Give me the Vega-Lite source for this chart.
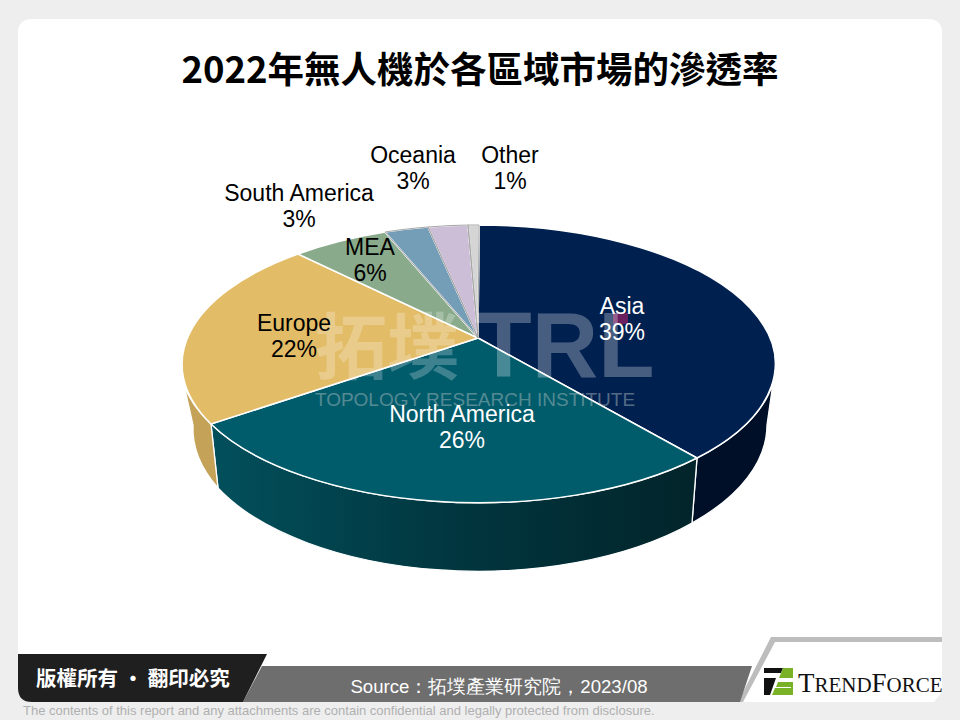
{
"$schema":"https://vega.github.io/schema/vega-lite/v6.json",
"width":960,"height":720,"autosize":{"type":"none"},"padding":0,
"background":"#eeeeee",
"title":{"text":"2022年無人機於各區域市場的滲透率","font":"Noto Sans CJK TC","fontSize":36.5,"fontWeight":"bold","color":"#000000","anchor":"middle","frame":"group","offset":-119,"baseline":"alphabetic"},
"config":{"view":{"stroke":null}},
"datasets":{"shares":[
{"region":"Asia","share":39},
{"region":"North America","share":26},
{"region":"Europe","share":22},
{"region":"MEA","share":6},
{"region":"South America","share":3},
{"region":"Oceania","share":3},
{"region":"Other","share":1}
]},
"data":{"name":"shares"},
"transform":[{"calculate":"datum.region + '\\n' + datum.share + '%'","as":"label"}],
"layer":[
{"data":{"values":[{"part":"panel"}]},"mark":{"type":"point","filled":true,"opacity":1,"size":4,"fill":"#ffffff","stroke":null,"shape":"M-448,-341 L448,-341 Q462,-341 462,-327 L462,332 L454,342 L-448,342 Q-462,342 -462,328 L-462,-327 Q-462,-341 -448,-341 Z"}},
{"data":{"values":[{"part":"stripe"}]},"mark":{"type":"point","filled":true,"opacity":1,"size":4,"fill":"#bdbdbd","stroke":null,"shape":"M291,277 L462,277 L462,282 L295,282 L263,342 L258,342 Z"}},
{"data":{"values":[{"part":"band"}]},"mark":{"type":"point","filled":true,"opacity":1,"size":4,"fill":"#6e6e6e","stroke":null,"shape":"M-218,306 L272,306 L260,342 L-237,342 Z"}},
{"data":{"values":[{"part":"tab"}]},"mark":{"type":"point","filled":true,"opacity":1,"size":4,"fill":"#1f1f1f","stroke":null,"shape":"M-462,294 L-213,294 L-237,342 L-448,342 Q-462,342 -462,328 Z"}},
{"data":{"values":[{"part":"logo black"}]},"mark":{"type":"point","filled":true,"opacity":1,"size":4,"fill":"#111111","stroke":null,"shape":"M284,308 L303,308 L301,313 L284,313 Z M284,318 L296,318 L290,335 L284,335 Z"}},
{"data":{"values":[{"part":"logo green"}]},"mark":{"type":"point","filled":true,"opacity":1,"size":4,"fill":"#7ab227","stroke":null,"shape":"M303,308 L313,308 L313,318 L299,318 Z M298,322 L313,322 L313,335 L292,335 L295,328 L311,328 L311,327 L296,327 Z"}},
{"data":{"values":[{"t":"版權所有 · 翻印必究"}]},"mark":{"type":"text","font":"Noto Sans CJK TC","fontWeight":"bold","fontSize":20.5,"fill":"#ffffff","align":"left","baseline":"middle","dx":-444,"dy":320},"encoding":{"text":{"field":"t"}}},
{"data":{"values":[{"t":"Source：拓墣產業研究院，2023/08"}]},"mark":{"type":"text","font":"Liberation Sans","fontSize":18.6,"fill":"#ffffff","align":"center","baseline":"middle","dx":19,"dy":327},"encoding":{"text":{"field":"t"}}},
{"data":{"values":[{"t":"The contents of this report and any attachments are contain confidential and legally protected from disclosure."}]},"mark":{"type":"text","font":"Liberation Sans","fontSize":13,"fill":"#b0b0b0","align":"left","baseline":"middle","dx":-457,"dy":351},"encoding":{"text":{"field":"t"}}},
{"data":{"values":[{"t":"T"}]},"mark":{"type":"text","font":"Liberation Serif","fontSize":27,"fill":"#111111","align":"left","baseline":"alphabetic","dx":318,"dy":332},"encoding":{"text":{"field":"t"}}},
{"data":{"values":[{"t":"REND"}]},"mark":{"type":"text","font":"Liberation Serif","fontSize":21,"fill":"#111111","align":"left","baseline":"alphabetic","dx":334.5,"dy":332},"encoding":{"text":{"field":"t"}}},
{"data":{"values":[{"t":"F"}]},"mark":{"type":"text","font":"Liberation Serif","fontSize":27,"fill":"#111111","align":"left","baseline":"alphabetic","dx":391.5,"dy":332},"encoding":{"text":{"field":"t"}}},
{"data":{"values":[{"t":"ORCE"}]},"mark":{"type":"text","font":"Liberation Serif","fontSize":21,"fill":"#111111","align":"left","baseline":"alphabetic","dx":406.5,"dy":332},"encoding":{"text":{"field":"t"}}},
{"transform":[{"filter":"datum.region === 'Asia'"}],"mark":{"type":"point","filled":true,"opacity":1,"size":4,"fill":"#000f28","stroke":"#ffffff","strokeWidth":1.3,"shape":"M293,23 A297,139 0 0 1 217,98 L212,163 A288,146 0 0 0 287,65 Z"}},
{"transform":[{"filter":"datum.region === 'North America'"}],"mark":{"type":"point","filled":true,"opacity":1,"size":4,"stroke":"#ffffff","strokeWidth":1.3,"fill":{"gradient":"linear","x1":0,"x2":1,"y1":0,"y2":0,"stops":[{"offset":0,"color":"#02505c"},{"offset":0.5,"color":"#01363f"},{"offset":1,"color":"#02242a"}]},"shape":"M217,98 A297,139 0 0 1 -269,64 L-262,128 A288,146 0 0 0 212,163 Z"}},
{"transform":[{"filter":"datum.region === 'Europe'"}],"mark":{"type":"point","filled":true,"opacity":1,"size":4,"fill":"#c4a258","stroke":"#ffffff","strokeWidth":1.3,"shape":"M-269,64 A297,139 0 0 1 -296,25 L-287,65 A288,146 0 0 0 -262,128 Z"}},
{"mark":{"type":"point","filled":true,"opacity":1,"size":4,"stroke":"#ffffff","strokeWidth":1.5},
 "encoding":{
  "shape":{"field":"region","type":"nominal","legend":null,"sort":null,"scale":{"domain":["Asia","North America","Europe","MEA","South America","Oceania","Other"],"range":[
   "M-2,-22 L-1,-135 A297,139 0 0 1 217,98 Z",
   "M-2,-22 L217,98 A297,139 0 0 1 -269,64 Z",
   "M-2,-22 L-269,64 A297,139 0 0 1 -182,-106 Z",
   "M-2,-22 L-182,-106 A297,139 0 0 1 -95,-128 Z",
   "M-2,-22 L-95,-128 A297,139 0 0 1 -52,-133 Z",
   "M-2,-22 L-52,-133 A297,139 0 0 1 -12,-135 Z",
   "M-2,-22 L-12,-135 A297,139 0 0 1 -1,-135 Z"]}},
  "fill":{"field":"region","type":"nominal","legend":null,"scale":{"domain":["Asia","North America","Europe","MEA","South America","Oceania","Other"],"range":["#002050","#005b6b","#e2bc66","#8aab8b","#749db8","#cdbed8","#d5d5d5"]}}
 }},
{"transform":[{"filter":"datum.share <= 3 && datum.region !== 'MEA'"}],
 "mark":{"type":"point","filled":false,"opacity":1,"size":4,"stroke":"#a6a6a6","strokeWidth":1,"fill":null},
 "encoding":{"shape":{"field":"region","type":"nominal","legend":null,"scale":{"domain":["South America","Oceania","Other"],"range":[
   "M-105,-158 L-95,-158 L-75,-131",
   "M-48,-171 L-38,-171 L-32,-134",
   "M12,-171 L0,-171 L-7,-135"]}}}},
{"data":{"values":[{"part":"mark"}]},"mark":{"type":"point","filled":true,"opacity":1,"size":4,"fill":"#6a1f5f","stroke":null,"shape":"M133,-47 L148,-47 L148,-36 L133,-36 Z"}},
{"data":{"values":[{"t":"拓墣"}]},"mark":{"type":"text","font":"Noto Sans CJK TC","fontWeight":"bold","fontSize":72,"fill":"#ffffff","opacity":0.24,"align":"center","baseline":"middle","dx":-93,"dy":-9},"encoding":{"text":{"field":"t"}}},
{"data":{"values":[{"t":"TRL"}]},"mark":{"type":"text","font":"Liberation Sans","fontWeight":"bold","fontSize":92,"fill":"#ffffff","opacity":0.28,"align":"center","baseline":"middle","dx":85,"dy":-11},"encoding":{"text":{"field":"t"}}},
{"data":{"values":[{"t":"TOPOLOGY RESEARCH INSTITUTE"}]},"mark":{"type":"text","font":"Liberation Sans","fontSize":19,"fill":"#b9c4c6","opacity":0.45,"align":"center","baseline":"middle","dx":-5,"dy":40},"encoding":{"text":{"field":"t"}}},
{"transform":[{"filter":"datum.region === 'Asia'"}],"mark":{"type":"text","font":"Liberation Sans","fontSize":23,"lineBreak":"\n","lineHeight":26,"fill":"#ffffff","align":"center","baseline":"middle","dx":142,"dy":-53},"encoding":{"text":{"field":"label"}}},
{"transform":[{"filter":"datum.region === 'North America'"}],"mark":{"type":"text","font":"Liberation Sans","fontSize":23,"lineBreak":"\n","lineHeight":26,"fill":"#ffffff","align":"center","baseline":"middle","dx":-18,"dy":55},"encoding":{"text":{"field":"label"}}},
{"transform":[{"filter":"datum.region === 'Europe'"}],"mark":{"type":"text","font":"Liberation Sans","fontSize":23,"lineBreak":"\n","lineHeight":26,"fill":"#000000","align":"center","baseline":"middle","dx":-186,"dy":-36},"encoding":{"text":{"field":"label"}}},
{"transform":[{"filter":"datum.region === 'MEA'"}],"mark":{"type":"text","font":"Liberation Sans","fontSize":23,"lineBreak":"\n","lineHeight":26,"fill":"#000000","align":"center","baseline":"middle","dx":-110,"dy":-112},"encoding":{"text":{"field":"label"}}},
{"transform":[{"filter":"datum.region === 'South America'"}],"mark":{"type":"text","font":"Liberation Sans","fontSize":23,"lineBreak":"\n","lineHeight":26,"fill":"#000000","align":"center","baseline":"middle","dx":-181,"dy":-166},"encoding":{"text":{"field":"label"}}},
{"transform":[{"filter":"datum.region === 'Oceania'"}],"mark":{"type":"text","font":"Liberation Sans","fontSize":23,"lineBreak":"\n","lineHeight":26,"fill":"#000000","align":"center","baseline":"middle","dx":-67,"dy":-204},"encoding":{"text":{"field":"label"}}},
{"transform":[{"filter":"datum.region === 'Other'"}],"mark":{"type":"text","font":"Liberation Sans","fontSize":23,"lineBreak":"\n","lineHeight":26,"fill":"#000000","align":"center","baseline":"middle","dx":30,"dy":-204},"encoding":{"text":{"field":"label"}}}
]
}
